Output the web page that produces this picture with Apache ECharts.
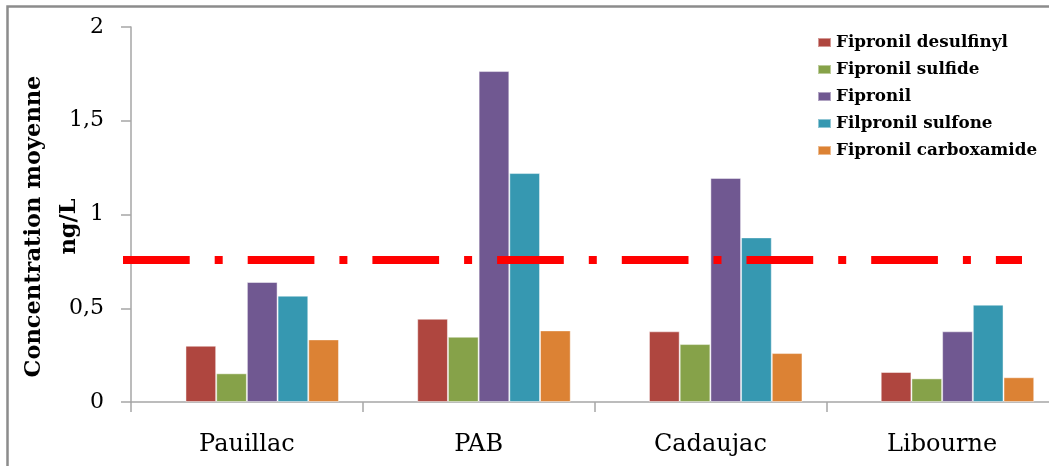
<!DOCTYPE html>
<html>
<head>
<meta charset="utf-8">
<script src="https://cdn.jsdelivr.net/npm/echarts@6/dist/echarts.min.js"></script>
<style>
html,body{margin:0;padding:0;background:#fff;}
#chart{width:1049px;height:466px;}
</style>
</head>
<body>
<div id="chart"></div>
<script>
// ---- data ----
const categories = ['Pauillac', 'PAB', 'Cadaujac', 'Libourne'];
const seriesNames = ['Fipronil desulfinyl', 'Fipronil sulfide', 'Fipronil', 'Filpronil sulfone', 'Fipronil carboxamide'];
const desulfinyl  = [0.30, 0.444, 0.377, 0.16];
const sulfide     = [0.153, 0.348, 0.309, 0.126];
const fipronil    = [0.64, 1.765, 1.195, 0.377];
const sulfone     = [0.567, 1.221, 0.878, 0.519];
const carboxamide = [0.334, 0.382, 0.261, 0.132];
const spacer      = [null, null, null, null]; // empty slot series (no marks)
const threshold   = 0.757;
const yTickValues = [0, 0.5, 1, 1.5, 2];
const yTickLabels = ['0', '0,5', '1', '1,5', '2'];

// ---- styling ----
const colors = ['#AF463F', '#86A249', '#705891', '#3698B1', '#DC8234'];
const values = [desulfinyl, sulfide, fipronil, sulfone, carboxamide];
const serif = '"DejaVu Serif", "Liberation Serif", serif';

const series = [{
  name: '_spacer', type: 'bar', data: spacer, barWidth: 30.7, barGap: 0,
  itemStyle: { color: 'rgba(0,0,0,0)' }, silent: true
}];
values.forEach((v, i) => {
  series.push({
    name: seriesNames[i], type: 'bar', data: v, barWidth: 30.7, barGap: 0,
    itemStyle: { color: colors[i], borderColor: 'rgba(255,255,255,0.45)', borderWidth: 1 },
    z: 2
  });
});
series[series.length - 1].markLine = {
  silent: true, symbol: 'none', animation: false, z: 5,
  label: { show: false },
  lineStyle: { color: '#FF0000', width: 8, type: [66.7, 25, 8, 25], cap: 'butt', opacity: 1 },
  data: [[{ x: 123, yAxis: threshold }, { x: 1022, yAxis: threshold }]]
};

const chart = echarts.init(document.getElementById('chart'), null, { renderer: 'canvas' });
chart.setOption({
  animation: false,
  backgroundColor: '#fff',
  grid: { left: 131, right: -9, top: 27, bottom: 64, containLabel: false, outerBoundsMode: 'none' },
  legend: {
    data: seriesNames, orient: 'vertical', left: 817, top: 32, padding: 0,
    itemWidth: 13, itemHeight: 9, itemGap: 6, icon: 'rect',
    textStyle: { fontFamily: serif, fontWeight: 'bold', fontSize: 16.8, lineHeight: 21, color: '#000' }
  },
  xAxis: {
    type: 'category', data: categories,
    axisLine: { lineStyle: { color: '#A6A6A6', width: 1.5 } },
    axisTick: { show: true, length: 10, lineStyle: { color: '#A6A6A6', width: 1.5 } },
    axisLabel: { fontFamily: serif, fontSize: 24, color: '#000', margin: 31, interval: 0 }
  },
  yAxis: {
    type: 'value', min: 0, max: 2, interval: 0.5,
    name: 'Concentration moyenne\nng/L', nameLocation: 'middle', nameGap: 44, nameRotate: 90,
    nameMoveOverlap: false,
    nameTextStyle: { fontFamily: serif, fontWeight: 'bold', fontSize: 22.5, lineHeight: 35, color: '#000', padding: [0, 24, 0, 0] },
    axisLine: { show: true, lineStyle: { color: '#A6A6A6', width: 1.5 } },
    axisTick: { show: true, length: 10, lineStyle: { color: '#A6A6A6', width: 1.5 } },
    splitLine: { show: false },
    axisLabel: {
      fontFamily: serif, fontSize: 22, color: '#000', margin: 27,
      formatter: v => { const i = yTickValues.indexOf(v); return i >= 0 ? yTickLabels[i] : ''; }
    }
  },
  graphic: [{
    type: 'rect', left: 5, top: 4, silent: true, z: 100,
    shape: { width: 1100, height: 520 },
    style: { fill: 'none', stroke: '#8C8C8C', lineWidth: 2.5 }
  }],
  series: series
});
</script>
</body>
</html>
